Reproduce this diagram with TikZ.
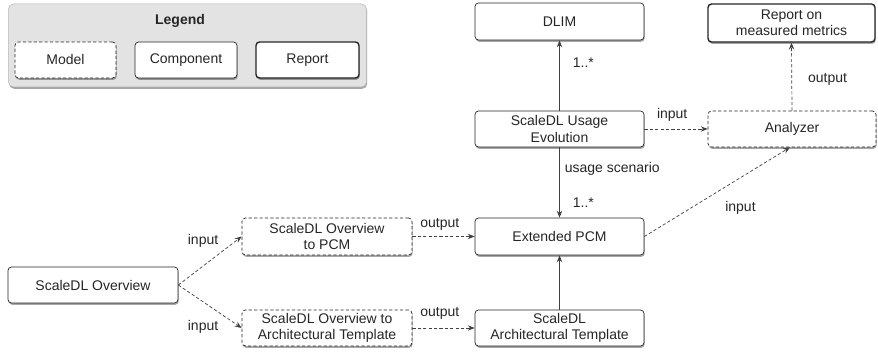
\documentclass[tikz,border=0pt]{standalone}
\usepackage{fontspec}
\setmainfont{Liberation Sans}
\usetikzlibrary{arrows.meta,shadows,calc}

\begin{document}
\begin{tikzpicture}[x=1pt,y=-1pt,
  txt/.style={font=\fontsize{14}{16.5}\selectfont, text=black!85},
  box/.style={txt, rectangle, rounded corners=3.5pt, draw=black!85, line width=0.7pt,
    fill=white, align=center, inner sep=0pt,
    drop shadow={shadow xshift=0.7pt, shadow yshift=-1.8pt, opacity=0.35, fill=black}},
  model/.style={box, dash pattern=on 3.2pt off 2.2pt},
  component/.style={box},
  report/.style={box, line width=1.4pt},
  lbl/.style={txt, inner sep=1pt},
  link/.style={line width=0.7pt, draw=black!75, -{Stealth[length=7pt,width=5.5pt,inset=2.5pt]}},
  solidlink/.style={link},
  dashlink/.style={link, dash pattern=on 3.2pt off 2.2pt}
]
\useasboundingbox (0,0) rectangle (878,352);

% legend panel
\node[rectangle, rounded corners=5pt, draw=black!30, fill=black!11, line width=0.5pt,
  minimum width=358, minimum height=83,
  drop shadow={shadow xshift=0.7pt, shadow yshift=-1.8pt, opacity=0.35, fill=black}]
  (legend) at (187.5,45.5) {};
\node[txt, font=\fontsize{14}{16.5}\selectfont\bfseries] (legendtitle) at (180,21) {Legend};
\node[model, minimum width=101, minimum height=36] (lmodel) at (65.5,60) {Model};
\node[component, minimum width=102, minimum height=36] (lcomp) at (186,60) {Component};
\node[report, minimum width=103, minimum height=36] (lrep) at (307.5,60) {Report};

% diagram boxes
\node[component, minimum width=169, minimum height=37] (dlim) at (559.5,21.5) {DLIM};
\node[report, minimum width=167, minimum height=38] (rep) at (791.5,23) {Report on\\measured metrics};
\node[component, minimum width=169, minimum height=36] (use) at (559.5,129) {ScaleDL Usage\\Evolution};
\node[model, minimum width=168, minimum height=36] (ana) at (792,129) {Analyzer};
\node[component, minimum width=169, minimum height=37] (epcm) at (559.5,236.5) {Extended PCM};
\node[component, minimum width=169, minimum height=36] (arch) at (559.5,328) {ScaleDL\\Architectural Template};
\node[component, minimum width=170, minimum height=36] (ov) at (93,285) {ScaleDL Overview};
\node[model, minimum width=170, minimum height=37] (ovpcm) at (327,236.5) {ScaleDL Overview\\to PCM};
\node[model, minimum width=170, minimum height=36] (ovarch) at (327,328) {ScaleDL Overview to\\Architectural Template};

% connectors
\draw[solidlink] (use.north) -- (dlim.south)
  node[lbl, pos=0.68, anchor=west, xshift=12pt] {1..*};
\draw[solidlink] (use.south) -- (epcm.north)
  node[lbl, pos=0.3, anchor=west, xshift=4pt] {usage scenario}
  node[lbl, pos=0.79, anchor=west, xshift=12pt] {1..*};
\draw[dashlink] (use.east) -- (ana.west)
  node[lbl, pos=0.44, above=6pt] {input};
\draw[dashlink] (ana.north) -- (rep.south)
  node[lbl, pos=0.46, anchor=west, xshift=15pt] {output};
\draw[dashlink] (epcm.east) -- ($(ana.south)+(-2,0)$)
  node[lbl, pos=0.66, below=22pt] {input};
\draw[solidlink] (arch.north) -- (epcm.south);
\draw[dashlink] (ov.east) -- (ovpcm.west)
  node[lbl, pos=0.39, above=17pt] {input};
\draw[dashlink] (ov.east) -- (ovarch.west)
  node[lbl, pos=0.39, below=17pt] {input};
\draw[dashlink] (ovpcm.east) -- (epcm.west)
  node[lbl, pos=0.44, above=5pt] {output};
\draw[dashlink] (ovarch.east) -- (arch.west)
  node[lbl, pos=0.44, above=7pt] {output};
\end{tikzpicture}
\end{document}
